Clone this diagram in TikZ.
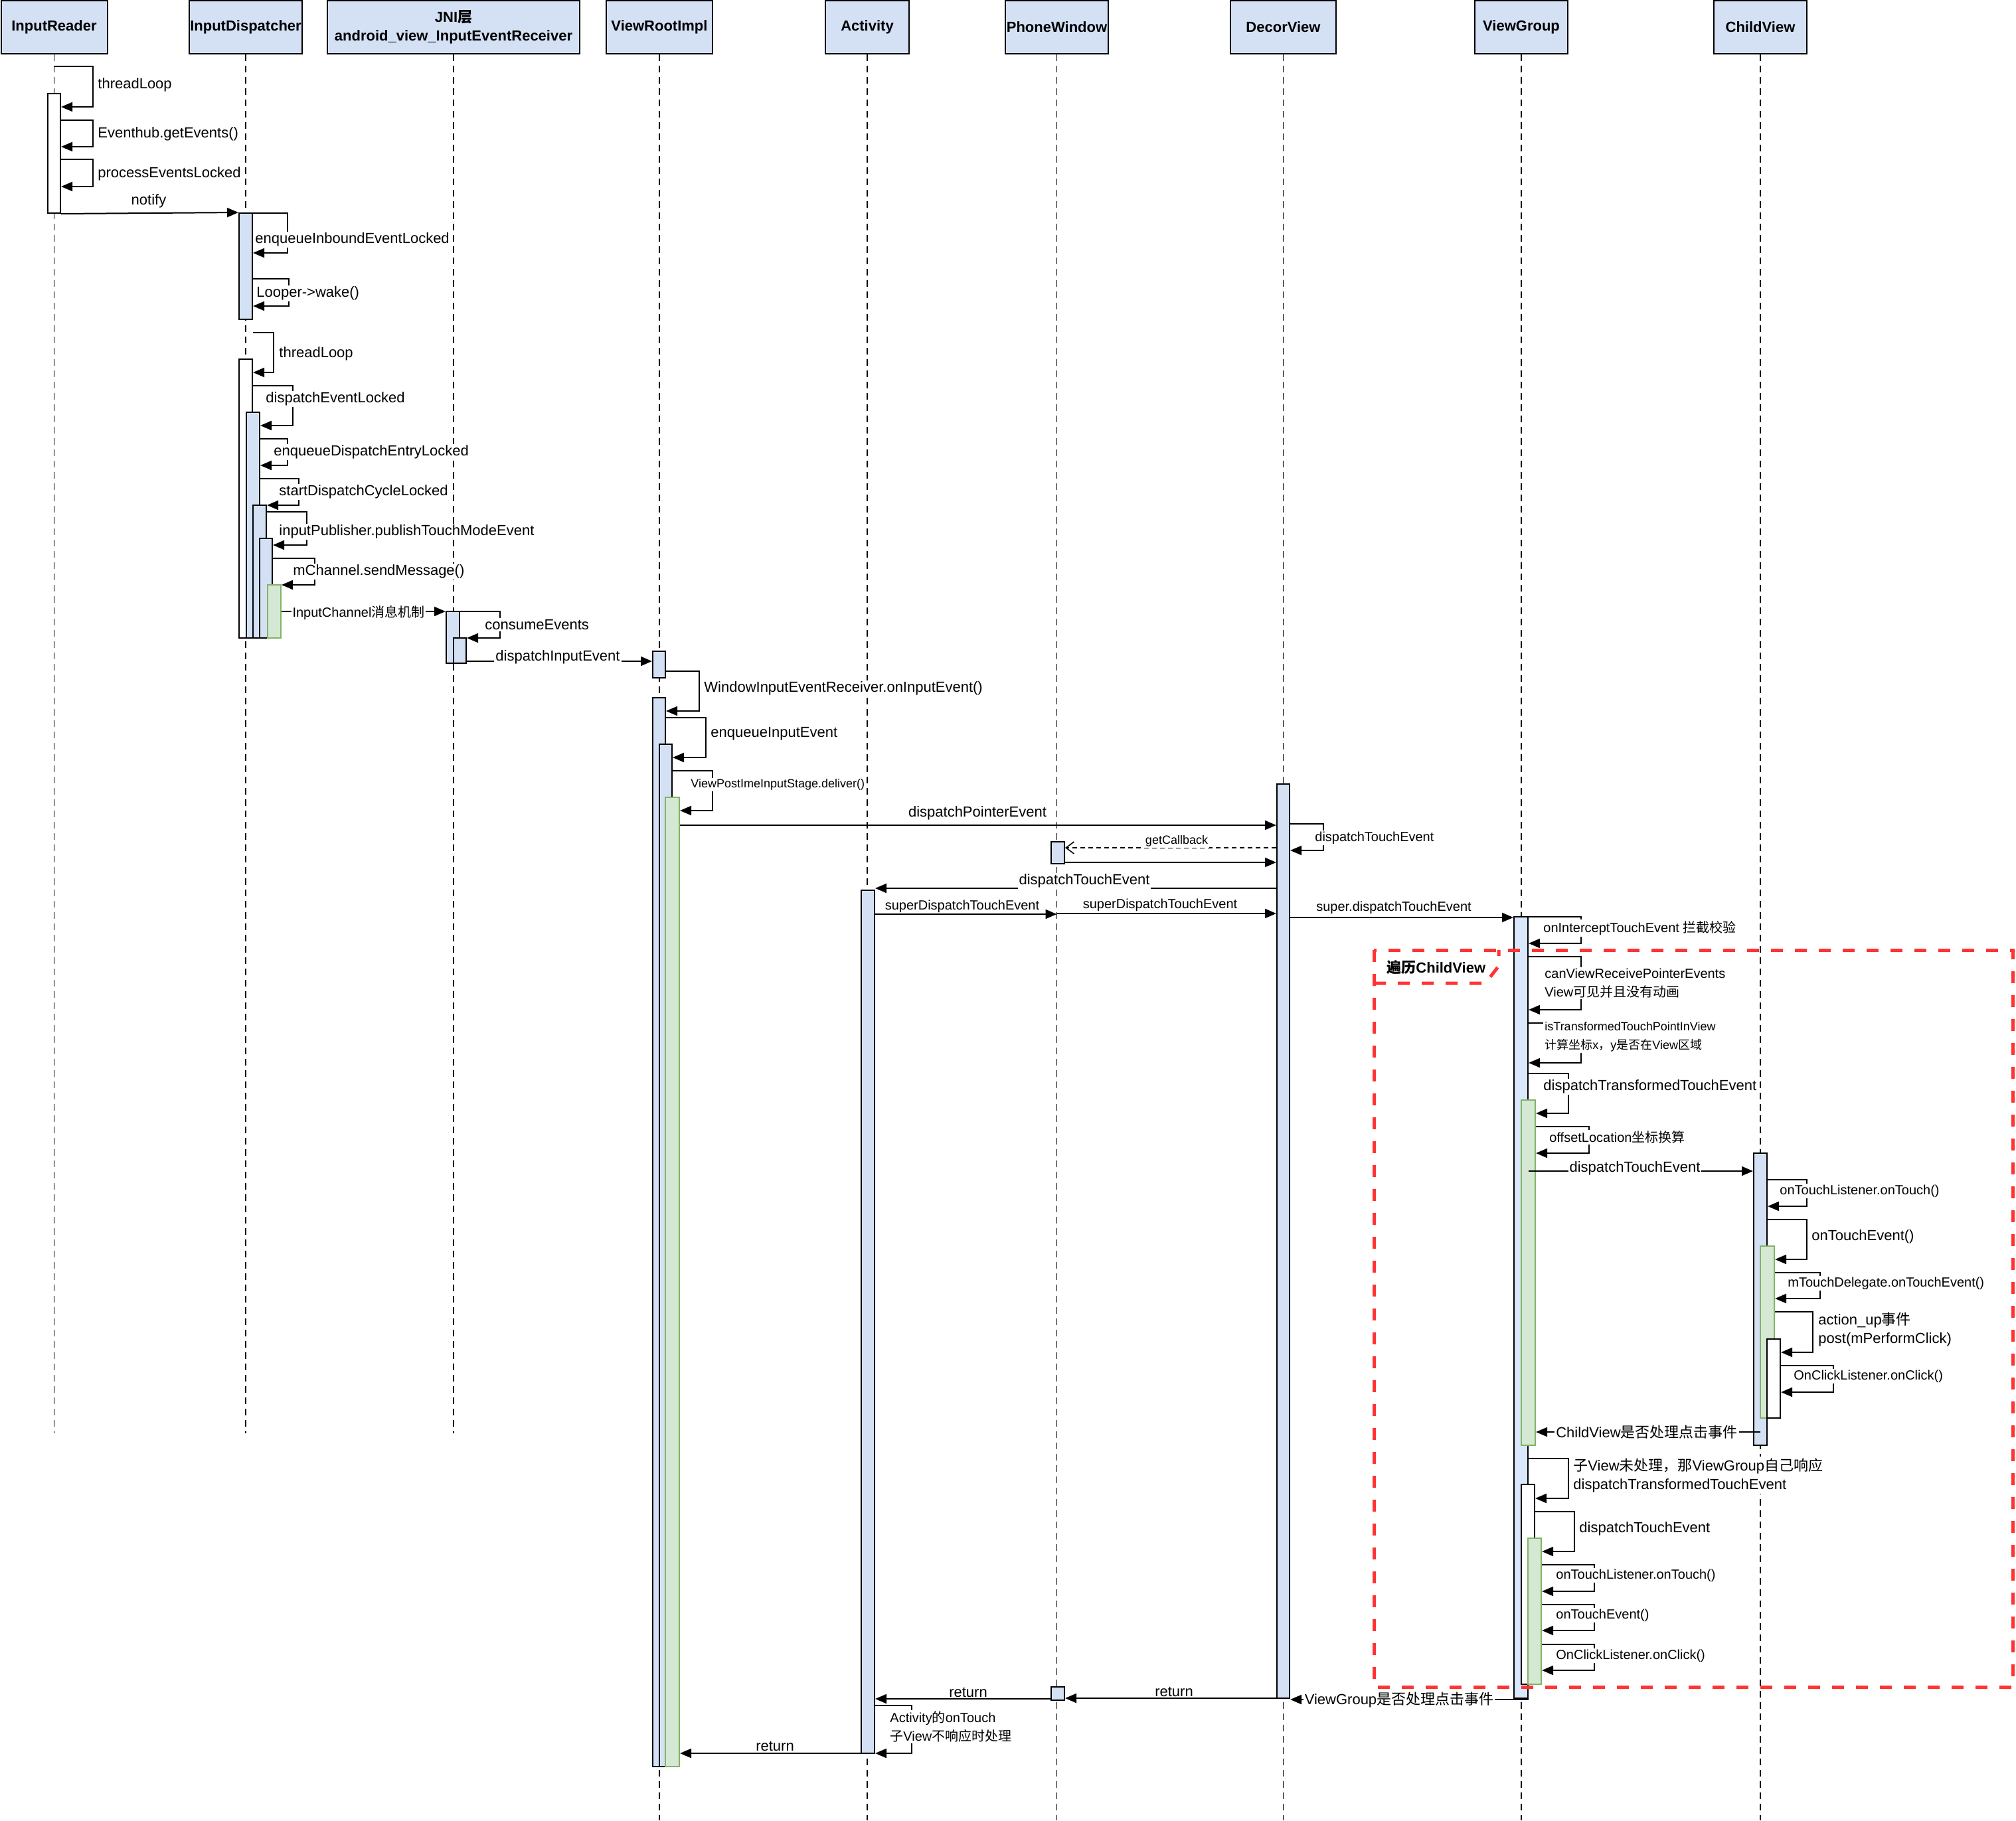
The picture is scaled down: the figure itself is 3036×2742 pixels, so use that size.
\documentclass[tikz,border=0pt]{standalone}
\usepackage{fontspec}
\setmainfont{Liberation Sans}
\newfontfamily\cjk{Noto Sans CJK SC}
\newcommand{\zh}[1]{{\cjk #1}}
\usepackage{tikz}
\usetikzlibrary{arrows.meta,fit}
\definecolor{hdr}{HTML}{D4E1F5}
\definecolor{vgb}{HTML}{DAE8FC}
\definecolor{grn}{HTML}{D5E8D4}
\definecolor{grnd}{HTML}{82B366}
\definecolor{frm}{HTML}{FF3333}
\tikzset{
  head/.style={draw,line width=1pt,fill=hdr,minimum height=40pt,minimum width=#1,inner sep=0pt,
               align=center,font=\bfseries\fontsize{11}{14}\selectfont},
  life/.style={line width=0.8pt,dash pattern=on 5pt off 3.5pt},
  bar/.style={draw,line width=1pt,fill=#1,inner sep=0pt},
  bar/.default=hdr,
  gbar/.style={bar=grn,draw=grnd},
  wbar/.style={bar=white},
  msg/.style={-{Triangle[length=8.5pt,width=7pt]},line width=1pt},
  cb/.style={-{Straight Barb[length=6pt,width=9pt]},line width=0.8pt,dash pattern=on 3.5pt off 2.5pt},
  lbl/.style={fill=white,inner sep=1pt,anchor=west,align=left,font=\fontsize{#1}{14}\selectfont},
  lbl/.default=11,
  mid/.style={lbl=#1,anchor=center},
  mid/.default=11,
  frame/.style={draw=frm,line width=2.5pt,dash pattern=on 9pt off 9pt},
}

\begin{document}
\begin{tikzpicture}[x=0.5pt,y=-0.5pt]
  \useasboundingbox (0,0) rectangle (3036,2742);
  % lifelines
  \node[head=80pt]   (hIR)  at (81.5,41)   {InputReader};
  \node[head=85pt]   (hID)  at (370,41)    {InputDispatcher};
  \node[head=190pt]  (hJNI) at (683,41)    {JNI\zh{层}\\android\_view\_InputEventReceiver};
  \node[head=80pt]   (hVRI) at (993,41)    {ViewRootImpl};
  \node[head=63pt]   (hAct) at (1306,41)   {Activity};
  \node[head=77.5pt] (hPW)  at (1591.5,41) {PhoneWindow};
  \node[head=79.5pt] (hDV)  at (1932.5,41) {DecorView};
  \node[head=70pt]   (hVG)  at (2291,41)   {ViewGroup};
  \node[head=70pt]   (hCV)  at (2651,41)   {ChildView};
  \foreach \h in {hIR,hID,hJNI} \draw[life] (\h.south) -- (\h.south |- 0,2159);
  \foreach \h in {hVRI,hAct,hPW,hDV,hVG,hCV} \draw[life] (\h.south) -- (\h.south |- 0,2742);

  % activations
  \node[wbar,fit={(72,141)(91,321)}] (ir1) {};
  \node[bar,fit={(360,321)(380,481)}] (id1) {};
  \node[wbar,fit={(360,541)(380,961)}] (id2) {};
  \node[bar,fit={(371,621)(391,961)}] (id3) {};
  \node[bar,fit={(381,761)(401,961)}] (id4) {};
  \node[bar,fit={(391,811)(410,961)}] (id5) {};
  \node[gbar,fit={(403,881)(423,961)}] (id6) {};
  \node[bar,fit={(672,921)(692,999)}] (jn1) {};
  \node[bar,fit={(683,961)(702,999)}] (jn2) {};
  \node[bar,fit={(983,981)(1002,1021)}] (vr1) {};
  \node[bar,fit={(983,1051)(1002,2661)}] (vr2) {};
  \node[bar,fit={(993,1121)(1012,2661)}] (vr3) {};
  \node[gbar,fit={(1002,1201)(1023,2661)}] (vr4) {};
  \node[bar,fit={(1297,1341)(1317,2641)}] (ac1) {};
  \node[bar,fit={(1583,1268)(1603,1301)}] (pw1) {};
  \node[bar,fit={(1583,2541)(1603,2561)}] (pw2) {};
  \node[bar,fit={(1923,1181)(1942,2558)}] (dv1) {};
  \node[bar=vgb,fit={(2280,1381)(2301,2558)}] (vg1) {};
  \node[gbar,fit={(2291,1657)(2312,2177)}] (vg2) {};
  \node[wbar,fit={(2291,2236)(2311,2537)}] (vg3) {};
  \node[gbar,fit={(2301,2317)(2321,2537)}] (vg4) {};
  \node[bar,fit={(2641,1737)(2661,2177)}] (cv1) {};
  \node[gbar,fit={(2651,1877)(2672,2136)}] (cv2) {};
  \node[wbar,fit={(2661,2017)(2681,2136)}] (cv3) {};

  % InputReader
  \draw[msg] (hIR.south |- 0,100) -| (140,161) -- (ir1.east |- 0,161);
  \node[lbl] (l1) at (145,128) {threadLoop};
  \draw[msg] (ir1.east |- 0,181) -| (140,221) -- (ir1.east |- 0,221);
  \node[lbl] (l2) at (145,202) {Eventhub.getEvents()};
  \draw[msg] (ir1.east |- 0,240) -| (140,281) -- (ir1.east |- 0,281);
  \node[lbl] (l3) at (145,262) {processEventsLocked};
  \draw[msg] (ir1.south east) -- (id1.north west);
  \node[mid] (l4) at (224,303) {notify};

  % InputDispatcher
  \draw[msg] (id1.east |- 0,321) -| (433,381) -- (id1.east |- 0,381);
  \node[lbl] (l5) at (382,361) {enqueueInboundEventLocked};
  \draw[msg] (id1.east |- 0,420) -| (435,461) -- (id1.east |- 0,461);
  \node[lbl] (l6) at (384,442) {Looper->wake()};
  \draw[msg] (id2.east |- 0,501) -| (412,561) -- (id2.east |- 0,561);
  \node[lbl] (l7) at (418,533) {threadLoop};
  \draw[msg] (id2.east |- 0,581) -| (441,641) -- (id3.east |- 0,641);
  \node[lbl] (l8) at (398,601) {dispatchEventLocked};
  \draw[msg] (id3.east |- 0,661) -| (433,701) -- (id3.east |- 0,701);
  \node[lbl] (l9) at (410,681) {enqueueDispatchEntryLocked};
  \draw[msg] (id3.east |- 0,721) -| (450,761) -- (id4.east |- 0,761);
  \node[lbl] (l10) at (418,741) {startDispatchCycleLocked};
  \draw[msg] (id4.east |- 0,771) -| (462,821) -- (id5.east |- 0,821);
  \node[lbl] (l11) at (418,801) {inputPublisher.publishTouchModeEvent};
  \draw[msg] (id5.east |- 0,841) -| (474,881) -- (id6.east |- 0,881);
  \node[lbl] (l12) at (439,861) {mChannel.sendMessage()};

  % JNI
  \draw[msg] (id6.east |- 0,921) -- (jn1.west |- 0,921);
  \node[mid=10] (l13) at (540,923) {InputChannel\zh{消息机制}};
  \draw[msg] (jn1.east |- 0,921) -| (753,961) -- (jn2.east |- 0,961);
  \node[lbl] (l14) at (728,941) {consumeEvents};
  \draw[msg] (jn2.east |- 0,996) -- (vr1.west |- 0,996);
  \node[mid] (l15) at (840,990) {dispatchInputEvent};

  % ViewRootImpl
  \draw[msg] (vr1.east |- 0,1011) -| (1053,1071) -- (vr2.east |- 0,1071);
  \node[lbl] (l16) at (1058,1037) {WindowInputEventReceiver.onInputEvent()};
  \draw[msg] (vr2.east |- 0,1081) -| (1063,1141) -- (vr3.east |- 0,1141);
  \node[lbl] (l17) at (1068,1105) {enqueueInputEvent};
  \draw[msg] (vr3.east |- 0,1161) -| (1073,1221) -- (vr4.east |- 0,1221);
  \node[lbl=9] (l18) at (1038,1182) {ViewPostImeInputStage.deliver()};
  \draw[msg] (vr4.east |- 0,1243) -- (dv1.west |- 0,1243);
  \node[mid] (l19) at (1472,1225) {dispatchPointerEvent};

  % DecorView, PhoneWindow, Activity
  \draw[msg] (dv1.east |- 0,1241) -| (1993,1281) -- (dv1.east |- 0,1281);
  \node[lbl=10] (l20) at (1978,1262) {dispatchTouchEvent};
  \draw[cb] (dv1.west |- 0,1277) -- (pw1.east |- 0,1277);
  \node[mid=9] (l21) at (1772,1267) {getCallback};
  \draw[msg] (pw1.east |- 0,1299) -- (dv1.west |- 0,1299);
  \draw[msg] (dv1.west |- 0,1338) -- (ac1.east |- 0,1338);
  \node[mid] (l22) at (1633,1327) {dispatchTouchEvent};
  \draw[msg] (ac1.east |- 0,1377) -- (hPW.south |- 0,1377);
  \node[mid=10] (l23) at (1449,1365) {superDispatchTouchEvent};
  \draw[msg] (hPW.south |- 0,1376) -- (dv1.west |- 0,1376);
  \node[mid=10] (l24) at (1747,1363) {superDispatchTouchEvent};
  \draw[msg] (dv1.east |- 0,1382) -- (vg1.west |- 0,1382);
  \node[mid=10] (l25) at (2099,1367) {super.dispatchTouchEvent};

  % ViewGroup
  \draw[msg] (vg1.east |- 0,1381) -| (2381,1421) -- (vg1.east |- 0,1421);
  \node[lbl=10] (l26) at (2322,1398) {onInterceptTouchEvent \zh{拦截校验}};
  \draw[msg] (vg1.east |- 0,1441) -| (2381,1521) -- (vg1.east |- 0,1521);
  \node[lbl=10] (l27) at (2324,1481) {canViewReceivePointerEvents\\View\zh{可见并且没有动画}};
  \draw[msg] (vg1.east |- 0,1541) -| (2381,1601) -- (vg1.east |- 0,1601);
  \node[lbl=9] (l28) at (2324,1562) {isTransformedTouchPointInView\\\zh{计算坐标}x\zh{，}y\zh{是否在}View\zh{区域}};
  \draw[msg] (vg1.east |- 0,1617) -| (2362,1677) -- (vg2.east |- 0,1677);
  \node[lbl] (l29) at (2322,1637) {dispatchTransformedTouchEvent};
  \draw[msg] (vg2.east |- 0,1697) -| (2393,1737) -- (vg2.east |- 0,1737);
  \node[lbl=10] (l30) at (2331,1713) {offsetLocation\zh{坐标换算}};
  \draw[msg] (vg1.east |- 0,1764) -- (cv1.west |- 0,1764);
  \node[mid] (l31) at (2462,1760) {dispatchTouchEvent};

  % ChildView
  \draw[msg] (cv1.east |- 0,1777) -| (2721,1817) -- (cv1.east |- 0,1817);
  \node[lbl=10] (l32) at (2678,1794) {onTouchListener.onTouch()};
  \draw[msg] (cv1.east |- 0,1837) -| (2721,1897) -- (cv2.east |- 0,1897);
  \node[lbl] (l33) at (2726,1863) {onTouchEvent()};
  \draw[msg] (cv2.east |- 0,1917) -| (2741,1956) -- (cv2.east |- 0,1956);
  \node[lbl=10] (l34) at (2690,1933) {mTouchDelegate.onTouchEvent()};
  \draw[msg] (cv2.east |- 0,1976) -| (2730,2037) -- (cv3.east |- 0,2037);
  \node[lbl] (l35) at (2736,2003) {action\_up\zh{事件}\\post(mPerformClick)};
  \draw[msg] (cv3.east |- 0,2057) -| (2761,2097) -- (cv3.east |- 0,2097);
  \node[lbl=10] (l36) at (2699,2073) {OnClickListener.onClick()};
  \draw[msg] (hCV.south |- 0,2157) -- (vg2.east |- 0,2157);
  \node[mid] (l37) at (2480,2157) {ChildView\zh{是否处理点击事件}};

  % ViewGroup handles it itself
  \draw[msg] (vg1.east |- 0,2197) -| (2362,2257) -- (vg3.east |- 0,2257);
  \node[lbl] (l38) at (2367,2222) {\zh{子}View\zh{未处理，那}ViewGroup\zh{自己响应}\\dispatchTransformedTouchEvent};
  \draw[msg] (vg3.east |- 0,2277) -| (2371,2337) -- (vg4.east |- 0,2337);
  \node[lbl] (l39) at (2376,2303) {dispatchTouchEvent};
  \draw[msg] (vg4.east |- 0,2357) -| (2401,2397) -- (vg4.east |- 0,2397);
  \node[lbl=10] (l40) at (2341,2373) {onTouchListener.onTouch()};
  \draw[msg] (vg4.east |- 0,2417) -| (2401,2456) -- (vg4.east |- 0,2456);
  \node[lbl=10] (l41) at (2341,2433) {onTouchEvent()};
  \draw[msg] (vg4.east |- 0,2477) -| (2401,2516) -- (vg4.east |- 0,2516);
  \node[lbl=10] (l42) at (2341,2494) {OnClickListener.onClick()};

  % returns
  \draw[msg] (vg1.east |- 0,2560) -- (dv1.east |- 0,2560);
  \node[mid] (l43) at (2107,2561) {ViewGroup\zh{是否处理点击事件}};
  \draw[msg] (dv1.west |- 0,2558) -- (pw2.east |- 0,2558);
  \node[mid] (l44) at (1768,2548) {return};
  \draw[msg] (pw2.west |- 0,2559) -- (ac1.east |- 0,2559);
  \node[mid] (l45) at (1458,2549) {return};
  \draw[msg] (ac1.east |- 0,2569) -| (1373,2641) -- (ac1.east |- 0,2641);
  \node[lbl=10] (l46) at (1338,2601) {Activity\zh{的}onTouch\\\zh{子}View\zh{不响应时处理}};
  \draw[msg] (ac1.west |- 0,2641) -- (vr4.east |- 0,2641);
  \node[mid] (l47) at (1167,2630) {return};

  % loop frame
  \draw[frame] (2069,1431) rectangle (3031,2541);
  \draw[frame] (2069,1481) -- (2237,1481) -- (2257,1455) -- (2257,1431);
  \node[anchor=west,inner sep=0pt,font=\bfseries\fontsize{11}{14}\selectfont] (tab) at (2088,1457) {\zh{遍历}ChildView};
\end{tikzpicture}
\end{document}
